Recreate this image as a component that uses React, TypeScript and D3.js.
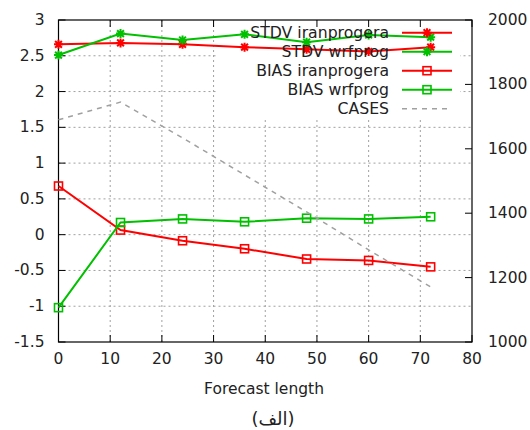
import React from "react";
import * as d3 from "d3";

const hours = [0, 12, 24, 36, 48, 60, 72];
const stdvIran = [2.66, 2.68, 2.66, 2.62, 2.59, 2.56, 2.62];
const stdvWrf = [2.51, 2.81, 2.72, 2.8, 2.69, 2.79, 2.76];
const biasIran = [0.68, 0.064, -0.085, -0.197, -0.34, -0.36, -0.45];
const biasWrf = [-1.02, 0.17, 0.22, 0.18, 0.23, 0.22, 0.25];
const cases = [1690, 1745, 1634, 1519, 1404, 1286, 1171];

const xTicks = [0, 10, 20, 30, 40, 50, 60, 70, 80];
const yTicks = [-1.5, -1, -0.5, 0, 0.5, 1, 1.5, 2, 2.5, 3];
const y2Ticks = [1000, 1200, 1400, 1600, 1800, 2000];
const legendLabels = ["STDV iranprogera", "STDV wrfprog", "BIAS iranprogera", "BIAS wrfprog", "CASES"];

const RED = "#ff0000";
const GREEN = "#00c000";
const GRAY = "#a0a0a0";
const FONT = "DejaVu Sans, sans-serif";

const L = 58.5, R = 472, T = 20, B = 342;

function Star({ x, y, color }: { x: number; y: number; color: string }) {
  const s = 4.5;
  const d = `M${x - s},${y}H${x + s}M${x},${y - s}V${y + s}M${x - s * 0.75},${y - s * 0.75}L${x + s * 0.75},${y + s * 0.75}M${x - s * 0.75},${y + s * 0.75}L${x + s * 0.75},${y - s * 0.75}`;
  return <path d={d} stroke={color} strokeWidth={2} fill="none" />;
}

function Square({ x, y, color }: { x: number; y: number; color: string }) {
  return <rect x={x - 4} y={y - 4} width={8} height={8} stroke={color} strokeWidth={1.6} fill="none" />;
}

export default function App() {
  const x = d3.scaleLinear().domain([0, 80]).range([L, R]);
  const y = d3.scaleLinear().domain([-1.5, 3]).range([B, T]);
  const y2 = d3.scaleLinear().domain([1000, 2000]).range([B, T]);

  const lineY = d3.line<number>().x((_, i) => x(hours[i])).y((v) => y(v));
  const lineY2 = d3.line<number>().x((_, i) => x(hours[i])).y((v) => y2(v));

  const series = [
    { data: stdvIran, color: RED, mark: "star" },
    { data: stdvWrf, color: GREEN, mark: "star" },
    { data: biasIran, color: RED, mark: "square" },
    { data: biasWrf, color: GREEN, mark: "square" },
  ];

  const legendRows = [32.7, 51.7, 70.7, 89.7, 108.7];
  const legendTextX = 389;
  const lx1 = 402, lx2 = 452, lmx = 427;

  const fmt = (v: number) => String(v);

  return (
    <svg width={530} height={430} style={{ position: "absolute", left: 0, top: 0, background: "#fff" }}>
      <rect x={0} y={0} width={530} height={430} fill="#fff" />
      {/* grid */}
      <g stroke={GRAY} strokeWidth={1} strokeDasharray="2,3">
        {xTicks.filter((t) => t > 0 && t < 80).map((t) => (
          <line key={"gx" + t} x1={x(t)} x2={x(t)} y1={B} y2={T} />
        ))}
        {yTicks.filter((t) => t > -1.5 && t < 3).map((t) => (
          <line key={"gy" + t} x1={L} x2={R} y1={y(t)} y2={y(t)} />
        ))}
      </g>
      {/* legend background */}
      <rect x={217} y={T + 0.5} width={243} height={98} fill="#fff" />
      {/* ticks */}
      <g stroke="#000" strokeWidth={1}>
        {yTicks.map((t) => (
          <line key={"ty" + t} x1={L} x2={L + 7} y1={y(t)} y2={y(t)} />
        ))}
        {y2Ticks.map((t) => (
          <line key={"ty2" + t} x1={R} x2={R - 7} y1={y2(t)} y2={y2(t)} />
        ))}
        {xTicks.map((t) => (
          <g key={"tx" + t}>
            <line x1={x(t)} x2={x(t)} y1={B} y2={B - 7} />
            <line x1={x(t)} x2={x(t)} y1={T} y2={T + 7} />
          </g>
        ))}
      </g>
      <rect x={L} y={T} width={R - L} height={B - T} fill="none" stroke="#000" strokeWidth={1.2} />
      {/* tick labels */}
      <g fontFamily={FONT} fontSize={15.5} fill="#222">
        {yTicks.map((t) => (
          <text key={"ly" + t} x={44.5} y={y(t)} textAnchor="end" dominantBaseline="central">{fmt(t)}</text>
        ))}
        {y2Ticks.map((t) => (
          <text key={"ly2" + t} x={488} y={y2(t)} textAnchor="start" dominantBaseline="central">{fmt(t)}</text>
        ))}
        {xTicks.map((t) => (
          <text key={"lx" + t} x={x(t)} y={359} textAnchor="middle" dominantBaseline="central">{fmt(t)}</text>
        ))}
        <text x={264} y={389} textAnchor="middle" dominantBaseline="central">Forecast length</text>
        <text x={273} y={418} textAnchor="middle" dominantBaseline="central" fontSize={18}>(الف)</text>
      </g>
      {/* data */}
      {series.map((s, k) => (
        <g key={"s" + k}>
          <path d={lineY(s.data) || ""} stroke={s.color} strokeWidth={2} fill="none" />
          {s.data.map((v, i) =>
            s.mark === "star" ? (
              <Star key={i} x={x(hours[i])} y={y(v)} color={s.color} />
            ) : (
              <Square key={i} x={x(hours[i])} y={y(v)} color={s.color} />
            )
          )}
        </g>
      ))}
      <path d={lineY2(cases) || ""} stroke={GRAY} strokeWidth={1.5} strokeDasharray="5,5" fill="none" />
      {/* legend */}
      <g fontFamily={FONT} fontSize={15.7} fill="#222">
        {legendLabels.map((lab, i) => (
          <text key={"lt" + i} x={legendTextX} y={legendRows[i]} textAnchor="end" dominantBaseline="central">{lab}</text>
        ))}
      </g>
      {series.map((s, i) => (
        <g key={"lg" + i}>
          <line x1={lx1} x2={lx2} y1={legendRows[i]} y2={legendRows[i]} stroke={s.color} strokeWidth={2} />
          {s.mark === "star" ? (
            <Star x={lmx} y={legendRows[i]} color={s.color} />
          ) : (
            <Square x={lmx} y={legendRows[i]} color={s.color} />
          )}
        </g>
      ))}
      <line x1={lx1} x2={lx2} y1={legendRows[4]} y2={legendRows[4]} stroke={GRAY} strokeWidth={1.5} strokeDasharray="5,5" />
    </svg>
  );
}
